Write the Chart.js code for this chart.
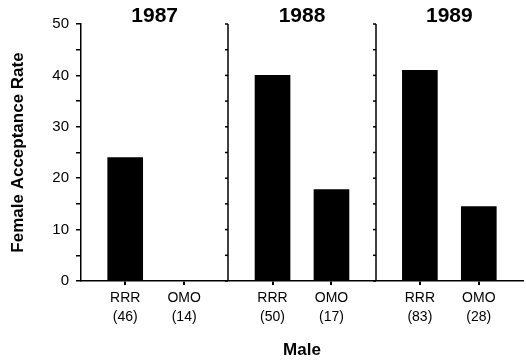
<!DOCTYPE html>
<html>
<head>
<meta charset="utf-8">
<script src="https://cdn.jsdelivr.net/npm/chart.js@4"></script>
<style>
html, body { margin: 0; padding: 0; background: #fff; }
</style>
</head>
<body>
<canvas id="chart" width="526" height="361"></canvas>
<script>
var years = ['1987', '1988', '1989'];
var males = ['RRR', 'OMO'];
var rrrRates = [24, 40, 41];
var omoRates = [0, 17.8, 14.5];
var rrrCounts = [46, 50, 83];
var omoCounts = [14, 17, 28];

// where RRR / OMO sit inside each year panel (panel = 1 unit wide)
var slots = [0.3, 0.7];

var points = [];
var tickLabels = {};
years.forEach(function (yr, i) {
    points.push({ x: i + slots[0], y: rrrRates[i] });
    points.push({ x: i + slots[1], y: omoRates[i] });
    tickLabels[(i + slots[0]).toFixed(2)] = [males[0], '(' + rrrCounts[i] + ')'];
    tickLabels[(i + slots[1]).toFixed(2)] = [males[1], '(' + omoCounts[i] + ')'];
});

var fontName = '"Liberation Sans", Arial, sans-serif';

// panel dividers with their own little ticks + year titles
var panelPlugin = {
    id: 'panels',
    afterDraw: function (chart) {
        var ctx = chart.ctx;
        var xs = chart.scales.x, ys = chart.scales.y;
        ctx.save();
        ctx.strokeStyle = '#000';
        ctx.lineWidth = 1.5;
        for (var p = 1; p < years.length; p++) {
            var px = Math.round(xs.getPixelForValue(p));
            ctx.beginPath();
            ctx.moveTo(px, ys.top);
            ctx.lineTo(px, ys.bottom);
            ctx.stroke();
            for (var v = 0; v <= 50; v += 5) {
                var py = ys.getPixelForValue(v);
                ctx.beginPath();
                ctx.moveTo(px - 3, py);
                ctx.lineTo(px, py);
                ctx.stroke();
            }
        }
        ctx.fillStyle = '#000';
        ctx.font = 'bold 21px ' + fontName;
        ctx.textAlign = 'center';
        ctx.textBaseline = 'middle';
        years.forEach(function (yr, i) {
            ctx.fillText(yr, xs.getPixelForValue(i + 0.5), 16);
        });
        ctx.restore();
    }
};

new Chart(document.getElementById('chart'), {
    type: 'bar',
    data: {
        datasets: [{
            data: points,
            backgroundColor: '#000',
            borderWidth: 0,
            barThickness: 35
        }]
    },
    options: {
        responsive: false,
        animation: false,
        devicePixelRatio: 1,
        layout: { padding: { top: 24, right: 3, left: 0, bottom: 0 } },
        plugins: { legend: { display: false }, tooltip: { enabled: false } },
        scales: {
            x: {
                type: 'linear',
                min: 0,
                max: 3,
                offset: false,
                afterBuildTicks: function (scale) {
                    scale.ticks = points.map(function (pt) { return { value: pt.x }; });
                },
                afterFit: function (scale) { scale.height = 80; },
                grid: { display: true, offset: false, drawOnChartArea: false, drawTicks: true, tickLength: 4, color: '#000', lineWidth: 2 },
                border: { display: true, color: '#000', width: 1.5 },
                ticks: {
                    autoSkip: false,
                    maxRotation: 0,
                    color: '#000',
                    padding: 3,
                    font: { family: fontName, size: 14, lineHeight: 1.4 },
                    callback: function (value) {
                        return tickLabels[Number(value).toFixed(2)] || '';
                    }
                },
                title: {
                    display: true,
                    text: 'Male',
                    color: '#000',
                    font: { family: fontName, size: 17, weight: 'bold' },
                    padding: { top: 0, bottom: 0 }
                }
            },
            y: {
                min: 0,
                max: 50,
                afterFit: function (scale) { scale.width = 81; },
                grid: { display: true, drawOnChartArea: false, drawTicks: true, tickLength: 5, color: '#000', lineWidth: 1.5 },
                border: { display: true, color: '#000', width: 1.5 },
                ticks: {
                    stepSize: 5,
                    autoSkip: false,
                    color: '#000',
                    padding: 7,
                    font: { family: fontName, size: 15 },
                    callback: function (v) { return v % 10 === 0 ? v : ''; }
                },
                title: {
                    display: true,
                    text: 'Female Acceptance Rate',
                    color: '#000',
                    font: { family: fontName, size: 17, weight: 'bold' },
                    padding: { top: 8, bottom: 0 }
                }
            }
        }
    },
    plugins: [panelPlugin]
});
</script>
</body>
</html>
